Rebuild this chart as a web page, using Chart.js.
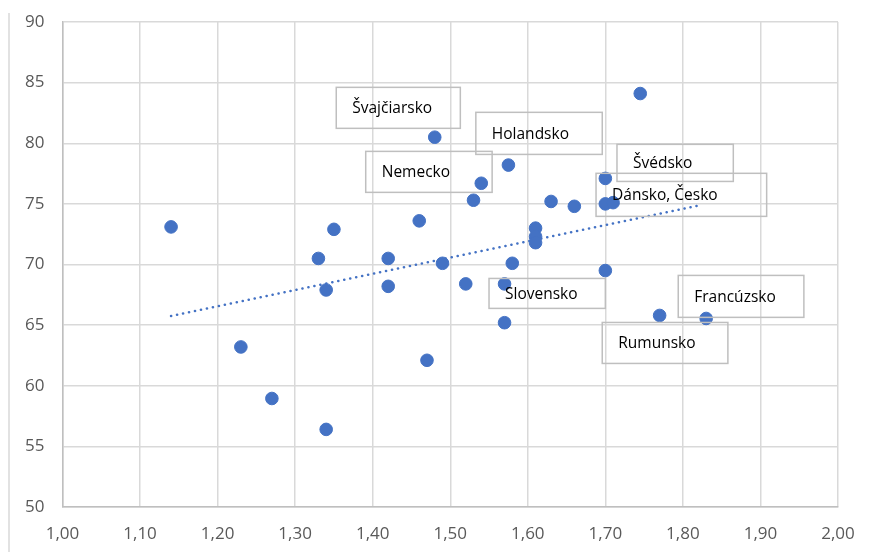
<!DOCTYPE html>
<html>
<head>
<meta charset="utf-8">
<script src="https://cdn.jsdelivr.net/npm/chart.js@4"></script>
<style>
  html, body { margin: 0; padding: 0; background: #fff; }
  #wrap { width: 870px; height: 552px; position: relative; }
</style>
</head>
<body>
<div id="wrap"><canvas id="chart"></canvas></div>
<script>
// hodnoty bodov (x, y) odčítané z grafu
const xValues = [1.14, 1.23, 1.27, 1.34, 1.33, 1.35, 1.34, 1.42, 1.42, 1.46, 1.47, 1.48, 1.49, 1.53, 1.54, 1.575,
                 1.52, 1.57, 1.57, 1.58, 1.61, 1.61, 1.61, 1.63, 1.66, 1.70, 1.70, 1.71, 1.70, 1.745, 1.77, 1.83];
const yValues = [73.1, 63.2, 58.95, 56.4, 70.5, 72.9, 67.9, 70.5, 68.2, 73.6, 62.1, 80.5, 70.1, 75.3, 76.7, 78.2,
                 68.4, 68.4, 65.2, 70.1, 73.0, 72.3, 71.8, 75.2, 74.8, 77.1, 75.0, 75.1, 69.5, 84.1, 65.8, 65.55];

// lineárny trend – koncové body
const trendX = [1.14, 1.823];
const trendY = [65.75, 74.9];

// popisky krajín
const labelTexts = ['Švajčiarsko', 'Holandsko', 'Nemecko', 'Švédsko', 'Dánsko, Česko', 'Slovensko', 'Francúzsko', 'Rumunsko'];

// rámčeky popisiek v jednotkách osí [x1, y1, x2, y2]
const labelBoxes = [
    [1.353, 84.61, 1.513, 81.23],
    [1.533, 82.55, 1.696, 79.08],
    [1.391, 79.33, 1.554, 75.95],
    [1.715, 79.91, 1.865, 76.85],
    [1.688, 77.52, 1.908, 73.97],
    [1.550, 68.85, 1.700, 66.38],
    [1.794, 69.10, 1.956, 65.64],
    [1.696, 65.22, 1.858, 61.84]
];

const BLUE = '#4472C4';
const GRID = '#d9d9d9';

const points = xValues.map((x, i) => ({ x, y: yValues[i] }));
const trend = trendX.map((x, i) => ({ x, y: trendY[i] }));

// rámik grafu vľavo + popisky v rámčekoch
const labelsPlugin = {
    id: 'labelsPlugin',
    beforeDraw(chart) {
        const ctx = chart.ctx;
        ctx.save();
        ctx.strokeStyle = GRID;
        ctx.lineWidth = 1.5;
        ctx.beginPath();
        ctx.moveTo(9, 13);
        ctx.lineTo(9, 552);
        ctx.stroke();
        ctx.restore();
    },
    afterDatasetsDraw(chart) {
        const { ctx, scales: { x, y } } = chart;
        ctx.save();
        labelBoxes.forEach((b, i) => {
            const x1 = x.getPixelForValue(b[0]);
            const y1 = y.getPixelForValue(b[1]);
            const x2 = x.getPixelForValue(b[2]);
            const y2 = y.getPixelForValue(b[3]);
            ctx.strokeStyle = '#bfbfbf';
            ctx.lineWidth = 1.5;
            ctx.strokeRect(x1, y1, x2 - x1, y2 - y1);
            ctx.fillStyle = '#000';
            ctx.font = '15.5px "Open Sans", sans-serif';
            ctx.textBaseline = 'middle';
            ctx.textAlign = 'left';
            ctx.fillText(labelTexts[i], x1 + 16, (y1 + y2) / 2 + 1);
        });
        ctx.restore();
    }
};

new Chart(document.getElementById('chart'), {
    type: 'scatter',
    data: {
        datasets: [
            {
                label: 'Krajiny',
                data: points,
                backgroundColor: BLUE,
                borderColor: BLUE,
                pointRadius: 6.3,
                pointHoverRadius: 6.3,
                order: 1
            },
            {
                label: 'Trend',
                type: 'line',
                data: trend,
                borderColor: BLUE,
                borderWidth: 2.6,
                borderDash: [0.1, 6],
                borderCapStyle: 'round',
                pointRadius: 0,
                fill: false,
                order: 2
            }
        ]
    },
    options: {
        responsive: true,
        maintainAspectRatio: false,
        animation: false,
        events: [],
        layout: { padding: { left: 0, right: 32, top: 22, bottom: 0 } },
        plugins: {
            legend: { display: false },
            tooltip: { enabled: false }
        },
        scales: {
            x: {
                type: 'linear',
                min: 1,
                max: 2,
                afterFit: (s) => { s.height = 45; s.paddingLeft = 0; s.paddingRight = 0; },
                border: { display: true, color: '#bfbfbf', width: 1.5 },
                grid: { color: GRID, lineWidth: 1.5, drawTicks: false },
                ticks: {
                    stepSize: 0.1,
                    padding: 17,
                    color: '#595959',
                    font: { family: '"Open Sans", sans-serif', size: 17 },
                    callback: (v) => v.toFixed(2).replace('.', ',')
                }
            },
            y: {
                type: 'linear',
                min: 50,
                max: 90,
                afterFit: (s) => { s.width = 62.5; s.paddingTop = 0; s.paddingBottom = 0; },
                border: { display: true, color: '#bfbfbf', width: 1.5 },
                grid: { color: GRID, lineWidth: 1.5, drawTicks: false },
                ticks: {
                    stepSize: 5,
                    padding: 18,
                    color: '#595959',
                    font: { family: '"Open Sans", sans-serif', size: 17 }
                }
            }
        }
    },
    plugins: [labelsPlugin]
});
</script>
</body>
</html>
